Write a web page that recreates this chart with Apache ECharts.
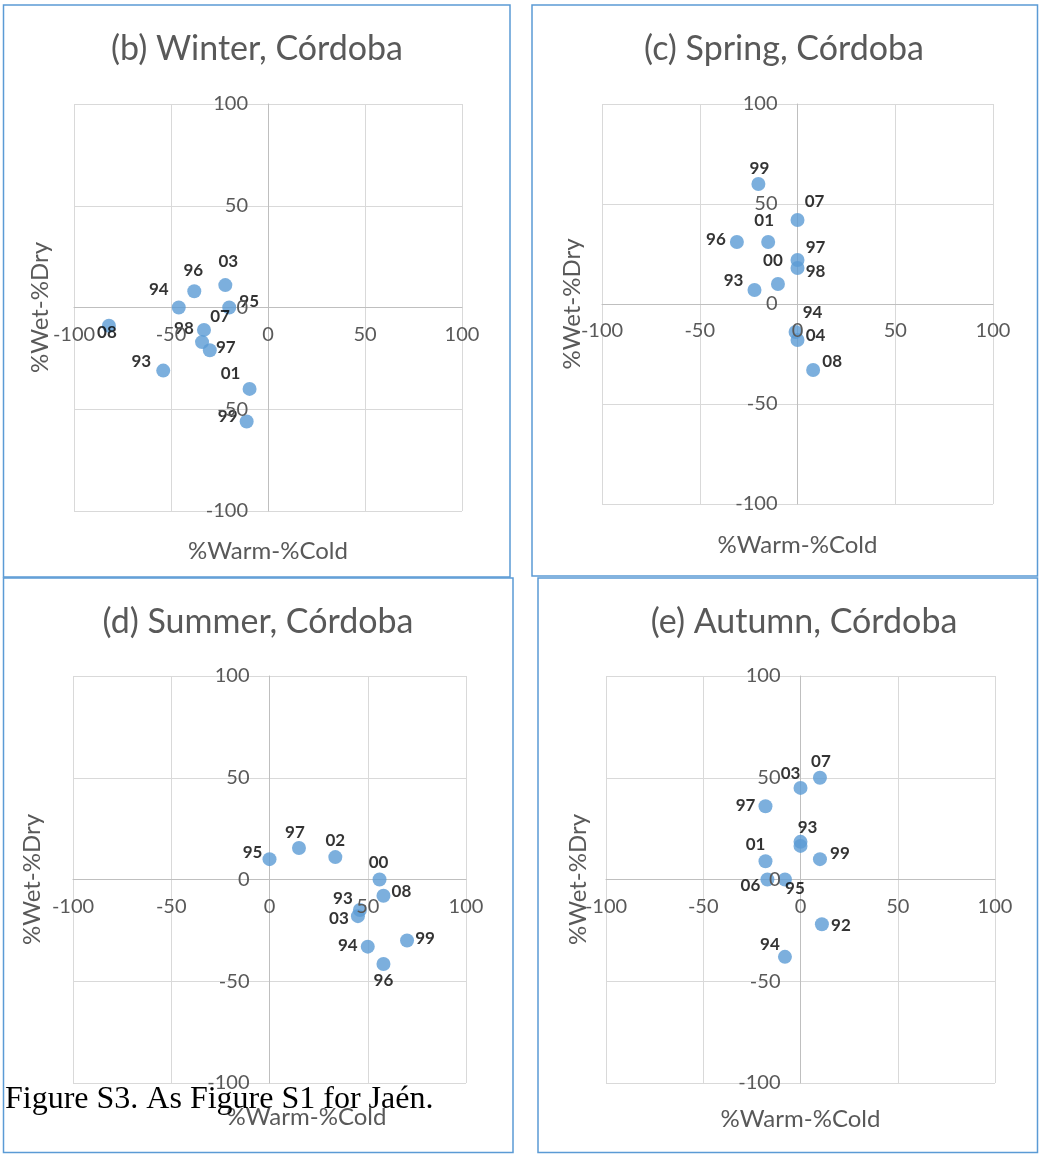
<!DOCTYPE html>
<html>
<head>
<meta charset="utf-8">
<script src="https://cdn.jsdelivr.net/npm/echarts@6/dist/echarts.min.js"></script>
<style>
html,body{margin:0;padding:0;background:#fff;}
#chart{width:1039px;height:1154px;}
</style>
</head>
<body>
<div id="chart"></div>
<script>
// ---------- data ----------
const tickLabels = [-100, -50, 0, 50, 100];
const xAxisTitle = '%Warm-%Cold';
const yAxisTitle = '%Wet-%Dry';
const caption = 'Figure S3. As Figure S1 for Jaén.';

const winterTitle = '(b) Winter, Córdoba';
const winterYears = ['93', '94', '95', '96', '97', '98', '99', '01', '03', '07', '08'];
const winterX     = [-54,  -46,  -20,  -38,  -30,  -33,  -11, -9.5,  -22,  -34,  -82];
const winterY     = [-31,    0,    0,    8,  -21,  -11,  -56,  -40,   11,  -17,   -9];

const springTitle = '(c) Spring, Córdoba';
const springYears = ['93', '94', '96', '97', '98', '99', '00', '01', '04', '07', '08'];
const springX     = [-22,   -1,  -31,    0,    0,  -20,  -10,  -15,    0,    0,    8];
const springY     = [  7,  -14,   31,   22,   18,   60,   10,   31,  -18,   42,  -33];

const summerTitle = '(d) Summer, Córdoba';
const summerYears = ['93', '94', '95', '96', '97', '99', '00', '02', '03', '08'];
const summerX     = [ 46,   50,    0,   58,   15,   70,   56, 33.5,   45,   58];
const summerY     = [-15,  -33,   10,-41.5, 15.5,  -30,    0,   11,  -18,   -8];

const autumnTitle = '(e) Autumn, Córdoba';
const autumnYears = ['92', '93', '',   '94', '95', '97', '99', '01', '03', '06', '07'];
const autumnX     = [ 11,    0,    0,   -8,   -8,  -18,   10,  -18,    0,  -17,   10];
const autumnY     = [-22, 18.5, 16.5,  -38,    0,   36,   10,    9,   45,    0,   50];

// ---------- label placement (px offsets from the marker centre) ----------
const winterLabelOffsets = [[-22,-9],[-20,-18],[20,-6],[-1,-21],[16,-3],[-20,-1],[-19,-5],[-19,-15],[3,-24],[18,-26],[-2,7]];
const springLabelOffsets = [[-21,-9],[17,-19],[-21,-2],[18,-12],[18,4],[1,-15],[-5,-23],[-4,-21],[18,-4],[17,-18],[19,-8]];
const summerLabelOffsets = [[-17,-12],[-20,-1],[-17,-7],[0,17],[-4,-15],[18,-2],[-1,-17],[0,-17],[-19,2],[18,-4]];
const autumnLabelOffsets = [[19,1],[7,-14],[0,0],[-15,-12],[10,9],[-20,-1],[20,-6],[-10,-17],[-10,-14],[-17,6],[1,-16]];

// ---------- layout ----------
const panels = [
  {title: winterTitle, years: winterYears, xs: winterX, ys: winterY, offs: winterLabelOffsets,
   grid: {left: 74, top: 104, width: 388, height: 407}, titleX: 257, titleY: 48,
   border: [3.5, 5, 506.5, 572], xGap: 244, yGap: 228, xShift: 0},
  {title: springTitle, years: springYears, xs: springX, ys: springY, offs: springLabelOffsets,
   grid: {left: 602, top: 104, width: 391, height: 400}, titleX: 784, titleY: 48,
   border: [532, 5, 505.5, 571], xGap: 241, yGap: 225, xShift: 0},
  {title: summerTitle, years: summerYears, xs: summerX, ys: summerY, offs: summerLabelOffsets,
   grid: {left: 73, top: 676, width: 393, height: 407}, titleX: 258, titleY: 621,
   border: [3.5, 578, 509.5, 574.5], xGap: 238, yGap: 237, xShift: 37},
  {title: autumnTitle, years: autumnYears, xs: autumnX, ys: autumnY, offs: autumnLabelOffsets,
   grid: {left: 606, top: 676, width: 389, height: 407}, titleX: 804, titleY: 621,
   border: [538, 578, 499.5, 574.5], xGap: 240, yGap: 222, xShift: 0}
];

const FONT = 'Lato, "Open Sans", sans-serif';
const GREY = '#595959';

const option = {
  backgroundColor: '#fff',
  animation: false,
  title: panels.map(p => ({
    text: p.title, left: p.titleX, top: p.titleY - 16, textAlign: 'center', padding: 0,
    textStyle: {fontFamily: FONT, fontSize: 34, fontWeight: 'normal', color: GREY}
  })),
  grid: panels.map(p => Object.assign({containLabel: false, outerBoundsMode: 'none'}, p.grid)),
  xAxis: [],
  yAxis: [],
  series: [],
  graphic: []
};

const axisBase = {type: 'value', min: tickLabels[0], max: tickLabels[tickLabels.length - 1],
  interval: tickLabels[1] - tickLabels[0]};

// base axes: grid lines + zero lines (drawn beneath markers)
panels.forEach((p, i) => {
  option.xAxis.push(Object.assign({}, axisBase, {
    gridIndex: i, position: 'bottom', z: 0,
    axisLine: {show: true, onZero: true, lineStyle: {color: '#bfbfbf', width: 1}},
    axisTick: {show: false}, axisLabel: {show: false},
    splitLine: {show: true, lineStyle: {color: '#d9d9d9', width: 1}}
  }));
  option.yAxis.push(Object.assign({}, axisBase, {
    gridIndex: i, position: 'left', z: 0,
    axisLine: {show: true, onZero: true, lineStyle: {color: '#bfbfbf', width: 1}},
    axisTick: {show: false}, axisLabel: {show: false},
    splitLine: {show: true, lineStyle: {color: '#d9d9d9', width: 1}}
  }));
});
// overlay axes: tick labels and titles, placed on the zero lines, drawn above markers
panels.forEach((p, i) => {
  option.xAxis.push(Object.assign({}, axisBase, {
    gridIndex: i, position: 'bottom', z: 5, offset: -p.grid.height / 2,
    axisLine: {show: false, onZero: false},
    axisTick: {show: false}, splitLine: {show: false},
    axisLabel: {show: true, margin: 17, fontFamily: FONT, fontSize: 20, color: GREY},
    name: xAxisTitle, nameLocation: 'middle', nameGap: p.xGap,
    nameTextStyle: {fontFamily: FONT, fontSize: 24, color: GREY, verticalAlign: 'middle',
      padding: [0, 0, 0, 2 * p.xShift]}
  }));
  option.yAxis.push(Object.assign({}, axisBase, {
    gridIndex: i, position: 'left', z: 5, offset: -p.grid.width / 2,
    axisLine: {show: false, onZero: false},
    axisTick: {show: false}, splitLine: {show: false},
    axisLabel: {show: true, margin: 20, fontFamily: FONT, fontSize: 20, color: GREY},
    name: yAxisTitle, nameLocation: 'middle', nameGap: p.yGap,
    nameTextStyle: {fontFamily: FONT, fontSize: 24, color: GREY, verticalAlign: 'middle'}
  }));
});

panels.forEach((p, i) => {
  option.series.push({
    type: 'scatter', xAxisIndex: i, yAxisIndex: i, z: 3,
    symbol: 'circle', symbolSize: 14,
    itemStyle: {color: '#5b9bd5'},
    label: {show: true, position: 'inside', formatter: '{b}', color: '#000',
      fontFamily: FONT, fontWeight: 'bold', fontSize: 17},
    labelLayout: (params) => {
      const o = p.offs[params.dataIndex];
      return {dx: o[0], dy: o[1], hideOverlap: false};
    },
    data: p.years.map((yr, k) => ({name: yr, value: [p.xs[k], p.ys[k]]}))
  });
  option.graphic.push({
    type: 'rect', z: 1, silent: true,
    shape: {x: p.border[0], y: p.border[1], width: p.border[2], height: p.border[3]},
    style: {fill: 'none', stroke: '#5b9bd5', lineWidth: 1.5}
  });
});

option.graphic.push({
  type: 'text', z: 20, x: 5, y: 1084, silent: true,
  style: {text: caption, fontFamily: '"Liberation Serif", "Times New Roman", serif',
    fontSize: 32, fill: '#000', verticalAlign: 'top'}
});

const chart = echarts.init(document.getElementById('chart'), null, {renderer: 'canvas'});
chart.setOption(option);
</script>
</body>
</html>
